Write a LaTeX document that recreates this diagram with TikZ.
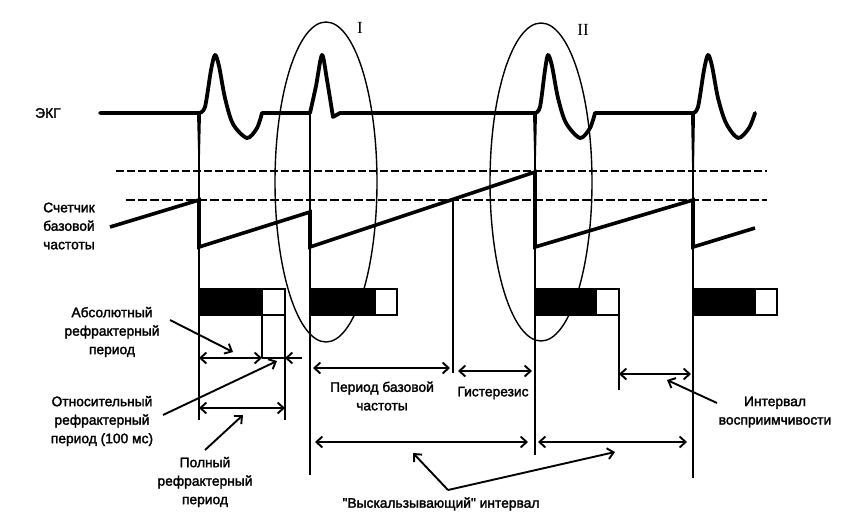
\documentclass[tikz,border=0pt]{standalone}
\usepackage{fontspec}
\setmainfont{Liberation Sans}
\newfontfamily\lblfont{Liberation Sans}[FakeBold=2]
\newfontfamily\romfont{Liberation Serif}
\usetikzlibrary{arrows.meta}
\tikzset{
  ecg/.style={line width=3.8pt, line join=round, line cap=round},
  saw/.style={line width=3.6pt, line join=miter},
  vline/.style={line width=1.4pt},
  bar/.style={line width=1.6pt},
  dim/.style={{Straight Barb[length=6pt,width=11pt]}-{Straight Barb[length=6pt,width=11pt]}, line width=1.9pt},
  ptr/.style={-{Straight Barb[length=6pt,width=11pt]}, line width=1.9pt},
  lbl/.style={align=center, inner sep=0pt, font=\lblfont\fontsize{13.8}{18.5}\selectfont},
  num/.style={inner sep=0pt, font=\romfont\fontsize{17}{17}\selectfont}
}
\begin{document}
\begin{tikzpicture}[x=1pt,y=-1pt]
  \useasboundingbox (0,0) rectangle (843,520);
  % texts
  \node[lbl, anchor=west] (ekg) at (35,113) {ЭКГ};
  \node[lbl, anchor=west, align=left] (cnt) at (43,226) {Счетчик\\базовой\\частоты};
  \node[lbl] (abs) at (112,332) {Абсолютный\\рефрактерный\\период};
  \node[lbl] (rel) at (102,421) {Относительный\\рефрактерный\\период (100 мс)};
  \node[lbl] (full) at (205,482) {Полный\\рефрактерный\\период};
  \node[lbl] (base) at (382,396) {Период базовой\\частоты};
  \node[lbl] (hyst) at (493,393) {Гистерезис};
  \node[lbl] (sens) at (775,412) {Интервал\\восприимчивости};
  \node[lbl] (esc) at (441,504) {\textquotedbl Выскальзывающий\textquotedbl{} интервал};
  \node[num] (I) at (360,28) {I};
  \node[num] (II) at (583,30) {II};
  % ellipses
  \draw[vline] (326,182) ellipse [x radius=51, y radius=160];
  \draw[vline] (541,182) ellipse [x radius=51, y radius=159];
  % threshold lines
  \draw[line width=1.4pt, dash pattern=on 8pt off 3pt] (116,171) -- (767,171);
  \draw[line width=2pt, dash pattern=on 9pt off 3pt] (126,200) -- (767,200);
  % event lines
  \draw[vline] (199,113) -- (199,420);
  \draw[vline] (262,315) -- (262,358);
  \draw[vline] (285,289) -- (285,420);
  \draw[vline] (310,113) -- (310,475);
  \draw[vline] (453,200) -- (453,373);
  \draw[vline] (535,113) -- (535,455);
  \draw[vline] (619,315) -- (619,390);
  \draw[vline] (693,113) -- (693,478);
  % refractory bars
  \draw[bar, fill=black] (199,289) rectangle (262,315);
  \draw[bar, fill=white] (262,289) rectangle (285,315);
  \draw[bar, fill=black] (310,289) rectangle (375,315);
  \draw[bar, fill=white] (375,289) rectangle (397,315);
  \draw[bar, fill=black] (535,289) rectangle (596,315);
  \draw[bar, fill=white] (596,289) rectangle (619,315);
  \draw[bar, fill=black] (693,289) rectangle (755,315);
  \draw[bar, fill=white] (755,289) rectangle (777,315);
  % base rate counter
  \draw[saw] (110,227) -- (199,200) -- (199,247) -- (310,212) -- (310,247)
    -- (535,172) -- (535,247) -- (693,200) -- (693,247) -- (755,228);
  % pacing spikes
  \fill (197,113) -- (201,113) -- (199.6,171) -- (198.6,171) -- cycle;
  \fill (533,113) -- (537,113) -- (535.6,173) -- (534.6,173) -- cycle;
  \fill (691,113) -- (695,113) -- (693.5,198) -- (692.7,198) -- cycle;
  % ECG
  \draw[ecg] (100,113) -- (199,113)
    -- plot[smooth] coordinates {(199,113) (205,107) (211,70) (215,55) (219,66) (225,98)
      (233,124) (247,138) (257,128) (262,113)}
    -- (310,113)
    -- plot[smooth] coordinates {(310,113) (316,86) (322,55) (327,80) (333,117)}
    -- (340,113) -- (535,113)
    -- plot[smooth] coordinates {(535,113) (540,107) (545,70) (548,55) (552,66) (558,98)
      (566,123) (580,138) (590,128) (595,113)}
    -- (693,113)
    -- plot[smooth] coordinates {(693,113) (698,107) (704,70) (708,55) (712,66) (718,98)
      (726,123) (738,138) (749,128) (755,113)};
  % interval ends
  \coordinate (a1) at (199,358);
  \coordinate (a2) at (262,358);
  \coordinate (a3) at (285,358);
  \coordinate (a4) at (302,358);
  \coordinate (f1) at (199,408);
  \coordinate (f2) at (285,408);
  \coordinate (b1) at (313,368);
  \coordinate (b2) at (450,368);
  \coordinate (h1) at (458,371);
  \coordinate (h2) at (532,371);
  \coordinate (e1) at (315,442);
  \coordinate (e2) at (528,442);
  \coordinate (e3) at (538,442);
  \coordinate (e4) at (687,442);
  \coordinate (s1) at (619,374);
  \coordinate (s2) at (691,374);
  \draw[dim] (a1) -- (a2);
  \draw[line width=1.9pt] (a2) -- (a3);
  \draw[ptr] (a4) -- (a3);
  \draw[dim] (f1) -- (f2);
  \draw[dim] (b1) -- (b2);
  \draw[dim] (h1) -- (h2);
  \draw[dim] (e1) -- (e2);
  \draw[dim] (e3) -- (e4);
  \draw[dim] (s1) -- (s2);
  % pointers
  \coordinate (pa0) at (170,320);
  \coordinate (pa1) at (233,352);
  \coordinate (pr0) at (163,415);
  \coordinate (pr1) at (277,361);
  \coordinate (pf0) at (205,450);
  \coordinate (pf1) at (243,415);
  \coordinate (ps0) at (717,403);
  \coordinate (ps1) at (667,380);
  \coordinate (pe0) at (448,490);
  \coordinate (pe1) at (413,453);
  \coordinate (pe2) at (615,452);
  \draw[ptr] (pa0) -- (pa1);
  \draw[ptr] (pr0) -- (pr1);
  \draw[ptr] (pf0) -- (pf1);
  \draw[ptr] (ps0) -- (ps1);
  \draw[ptr] (pe0) -- (pe1);
  \draw[ptr] (pe0) -- (pe2);
\end{tikzpicture}
\end{document}
